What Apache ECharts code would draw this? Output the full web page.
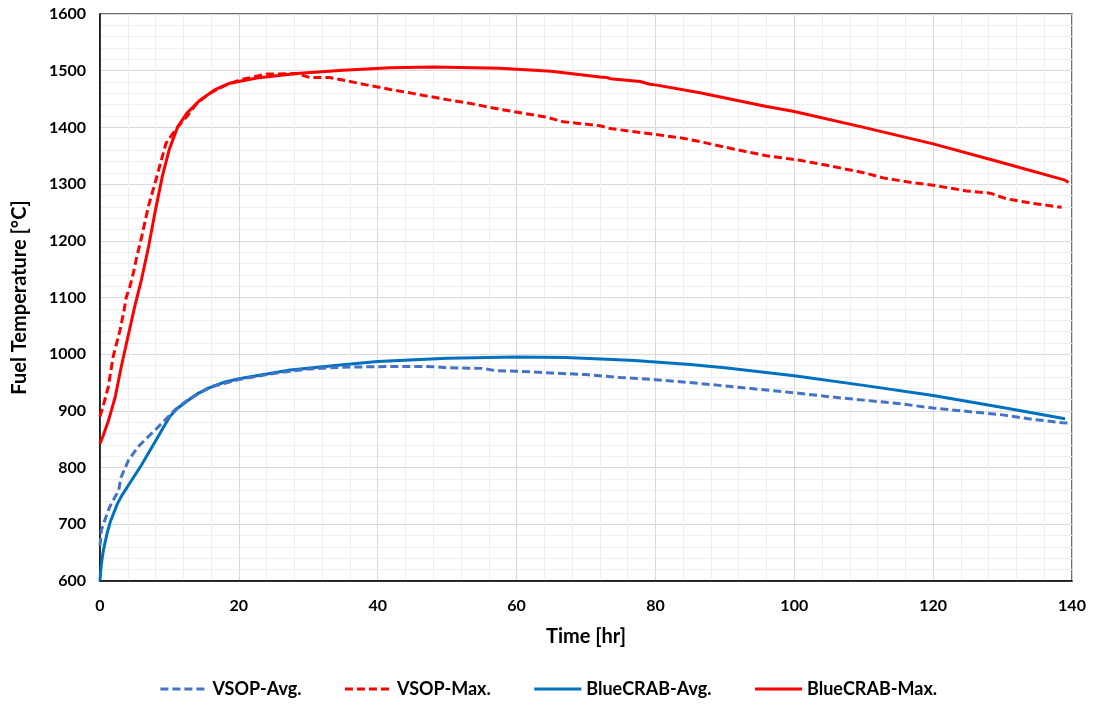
<!DOCTYPE html>
<html>
<head>
<meta charset="utf-8">
<script src="https://cdn.jsdelivr.net/npm/echarts@6/dist/echarts.min.js"></script>
<style>
  html, body { margin: 0; padding: 0; background: #fff; }
  #chart { width: 1096px; height: 706px; }
</style>
</head>
<body>
<div id="chart"></div>
<script>
// Fuel temperature transients: [time (hr), temperature (°C)]
const vsopAvg = [
  [0, 662], [0.2, 690], [0.6, 704], [1.4, 731], [2.2, 749], [2.7, 760], [3.0, 782],
  [4.1, 813], [5.5, 837], [7.0, 855], [8.9, 878], [10.8, 902], [12.5, 918],
  [15.8, 942], [20.2, 956], [25, 966], [30, 974], [35, 977], [40, 978], [45, 978.5],
  [48, 978], [50, 976], [55, 975], [57, 971], [60, 970], [65, 967], [70, 964],
  [75, 959], [80, 955], [85, 950], [90, 944], [95, 938], [100, 932], [105, 925],
  [110, 919], [115, 913], [120, 905], [125, 899], [130, 893], [134.4, 885],
  [138.7, 879], [140, 878]
];
const vsopMax = [
  [0, 890], [0.6, 915], [1.2, 943], [1.9, 996], [2.9, 1043], [3.5, 1080], [3.8, 1101],
  [4.3, 1119], [4.8, 1143], [5.3, 1172], [6.0, 1207], [7.0, 1262], [8.0, 1305],
  [9.5, 1372], [11, 1398], [12.5, 1419], [14, 1443], [15.8, 1460], [18, 1474],
  [20.2, 1484], [24, 1494], [28.3, 1495], [30.2, 1488], [33.1, 1488], [36, 1481],
  [38.4, 1475], [41.8, 1467], [45, 1460], [50, 1449], [53, 1443], [57.6, 1432],
  [61, 1425], [64.3, 1418], [66.7, 1410], [72, 1403], [73.5, 1398], [79.7, 1388],
  [84, 1381], [86.4, 1375], [91.2, 1362], [96, 1350], [100.8, 1342], [105.6, 1331],
  [110.4, 1319], [112.8, 1311], [116.2, 1304], [120, 1298], [124.8, 1288],
  [128.2, 1284], [130.6, 1274], [134.4, 1266], [138.5, 1259]
];
const blueCrabAvg = [
  [0, 600], [0.1, 618], [0.25, 635], [0.5, 655], [1.0, 683], [1.5, 705], [2.5, 736],
  [3.2, 752], [4.0, 767], [5.0, 786], [6.0, 805], [7.0, 826], [8.0, 847], [9.0, 868],
  [10.0, 889], [11.0, 903], [12.5, 917], [14, 930], [15.8, 941], [18, 951],
  [20.2, 957], [27.4, 972], [34.6, 981], [40, 987], [50, 993], [60, 995], [67, 994],
  [73, 991], [77, 989], [79, 987], [85, 982], [90, 976], [95, 969], [100, 962],
  [110, 945], [120, 927], [130, 906], [139, 886]
];
const blueCrabMax = [
  [0, 842], [0.5, 858], [1.2, 882], [2.2, 925], [3.1, 980], [4.1, 1035], [5.0, 1084],
  [6.0, 1133], [7.0, 1190], [8.0, 1255], [9.0, 1315], [10.0, 1362], [11.2, 1401],
  [12.5, 1425], [14.4, 1448], [16.5, 1466], [18.7, 1478], [22.6, 1487], [28.3, 1495],
  [35, 1501], [41.8, 1505], [48, 1506.5], [57.6, 1504.5], [65, 1499], [72, 1489],
  [73, 1488], [73.5, 1486], [77.8, 1481], [79.2, 1476], [80, 1475], [86.4, 1461],
  [96, 1437], [100, 1428], [110, 1400], [120, 1371], [129.6, 1339], [139, 1307],
  [139.5, 1303]
];

const seriesNames = ['VSOP-Avg.', 'VSOP-Max.', 'BlueCRAB-Avg.', 'BlueCRAB-Max.'];
const xTicks = { min: 0, max: 140, interval: 20 };
const yTicks = { min: 600, max: 1600, interval: 100 };

const FONT = 'Lato, "Open Sans", sans-serif';

function lineSeries(name, data, color, dashed) {
  return {
    name: name,
    type: 'line',
    data: data,
    symbol: 'none',
    showSymbol: false,
    smooth: false,
    lineStyle: { color: color, width: 3, type: dashed ? [8, 4] : 'solid' },
    itemStyle: { color: color },
    z: dashed ? 3 : 2
  };
}

const chart = echarts.init(document.getElementById('chart'), null, { renderer: 'canvas' });
chart.setOption({
  animation: false,
  backgroundColor: '#ffffff',
  grid: {
    left: 100, right: 24, top: 14, bottom: 125,
    show: true, borderColor: '#404040', borderWidth: 1.5, backgroundColor: 'transparent'
  },
  legend: {
    bottom: 3,
    left: 'center',
    itemWidth: 47,
    itemHeight: 14,
    itemGap: 42,
    itemStyle: { opacity: 0 },
    lineStyle: { width: 3 },
    textStyle: { fontFamily: FONT, fontWeight: 'bold', fontSize: 18, color: '#000' },
    data: seriesNames
  },
  xAxis: {
    type: 'value',
    min: xTicks.min, max: xTicks.max, interval: xTicks.interval,
    name: 'Time [hr]',
    nameLocation: 'middle',
    nameGap: 46,
    nameTextStyle: { fontFamily: FONT, fontWeight: 'bold', fontSize: 20, color: '#000' },
    axisLine: { show: true, lineStyle: { color: '#000', width: 1.5 } },
    axisTick: { show: false },
    axisLabel: { fontFamily: FONT, fontWeight: 'bold', fontSize: 16, color: '#000', margin: 17 },
    splitLine: { show: true, lineStyle: { color: '#d9d9d9', width: 1 } },
    minorTick: { show: false, splitNumber: 5 },
    minorSplitLine: { show: true, lineStyle: { color: '#efefef', width: 1 } }
  },
  yAxis: {
    type: 'value',
    min: yTicks.min, max: yTicks.max, interval: yTicks.interval,
    name: 'Fuel Temperature [°C]',
    nameLocation: 'middle',
    nameGap: 70,
    nameTextStyle: { fontFamily: FONT, fontWeight: 'bold', fontSize: 20, color: '#000' },
    axisLine: { show: true, lineStyle: { color: '#000', width: 1.5 } },
    axisTick: { show: false },
    axisLabel: {
      fontFamily: FONT, fontWeight: 'bold', fontSize: 16, color: '#000', margin: 14,
      formatter: function (v) { return String(v); }
    },
    splitLine: { show: true, lineStyle: { color: '#d9d9d9', width: 1 } },
    minorTick: { show: false, splitNumber: 5 },
    minorSplitLine: { show: true, lineStyle: { color: '#efefef', width: 1 } }
  },
  series: [
    lineSeries(seriesNames[0], vsopAvg, '#4472C4', true),
    lineSeries(seriesNames[1], vsopMax, '#FF0000', true),
    lineSeries(seriesNames[2], blueCrabAvg, '#0070C0', false),
    lineSeries(seriesNames[3], blueCrabMax, '#FF0000', false)
  ]
});
</script>
</body>
</html>
